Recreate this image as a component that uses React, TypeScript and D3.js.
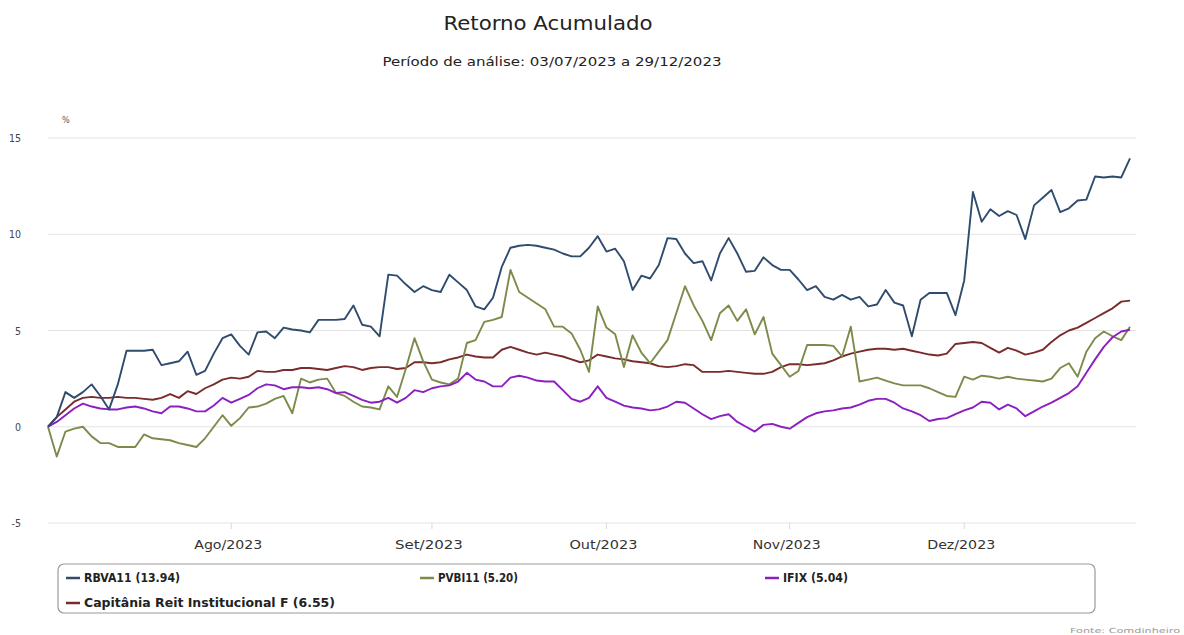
import React from "react";
import * as d3 from "d3";

// ---- Data ----
const startDate = "2023-07-03";
const endDate = "2023-12-29";
const holidays = ["2023-09-07", "2023-10-12", "2023-11-02", "2023-11-15", "2023-12-25"];
const monthLabels = ["Ago/2023", "Set/2023", "Out/2023", "Nov/2023", "Dez/2023"];
const yTicks = [-5, 0, 5, 10, 15];

const rbva11 = [
  0, 0.5, 1.8, 1.5, 1.8, 2.2, 1.6, 0.9, 2.2, 3.95, 3.95, 3.95, 4.0, 3.2, 3.3, 3.4, 3.9, 2.7, 2.9, 3.8, 4.6,
  4.8, 4.2, 3.75, 4.9, 4.95, 4.6, 5.15, 5.05, 5.0, 4.9, 5.55, 5.55, 5.55, 5.6, 6.3, 5.3, 5.2, 4.7, 7.9, 7.85, 7.4, 7.0,
  7.3, 7.1, 7.0, 7.9, 7.5, 7.1, 6.25, 6.1, 6.7, 8.3, 9.3, 9.4, 9.45, 9.4, 9.3, 9.2, 9.0, 8.85, 8.85, 9.3, 9.9,
  9.1, 9.25, 8.6, 7.1, 7.85, 7.7, 8.4, 9.8, 9.75, 9.0, 8.5, 8.6, 7.6, 9.0, 9.8, 9.0, 8.05, 8.1, 8.8, 8.4, 8.15,
  8.15, 7.65, 7.1, 7.3, 6.75, 6.6, 6.85, 6.6, 6.75, 6.25, 6.35, 7.1, 6.45, 6.3, 4.7, 6.6, 6.95, 6.95, 6.95, 5.8, 7.6, 12.2,
  10.65, 11.3, 10.95, 11.2, 11.0, 9.75, 11.5, 11.9, 12.3, 11.15, 11.35, 11.75, 11.8, 13.0, 12.95, 13.0, 12.95, 13.94,
];

const pvbi11 = [
  0, -1.55, -0.25, -0.1, 0.0, -0.5, -0.85, -0.85, -1.05, -1.05, -1.05, -0.4, -0.6, -0.65, -0.7, -0.85, -0.95, -1.05, -0.6, 0.0, 0.6,
  0.05, 0.45, 1.0, 1.05, 1.2, 1.45, 1.6, 0.7, 2.5, 2.3, 2.45, 2.5, 1.75, 1.6, 1.3, 1.05, 1.0, 0.9, 2.1, 1.55, 3.0, 4.6,
  3.4, 2.45, 2.3, 2.2, 2.5, 4.35, 4.5, 5.45, 5.55, 5.7, 8.15, 7.0, 6.7, 6.4, 6.1, 5.2, 5.2, 4.85, 4.0, 2.85, 6.25,
  5.15, 4.8, 3.1, 4.75, 3.85, 3.3, 3.9, 4.5, 5.9, 7.3, 6.3, 5.5, 4.5, 5.9, 6.3, 5.5, 6.1, 4.8, 5.7, 3.8, 3.2,
  2.6, 2.9, 4.25, 4.25, 4.25, 4.2, 3.65, 5.2, 2.35, 2.45, 2.55, 2.4, 2.25, 2.15, 2.15, 2.15, 2.0, 1.8, 1.6, 1.55, 2.6, 2.45,
  2.65, 2.6, 2.5, 2.6, 2.5, 2.45, 2.4, 2.35, 2.5, 3.05, 3.3, 2.6, 3.9, 4.6, 4.95, 4.7, 4.5, 5.2,
];

const ifix = [
  0, 0.25, 0.6, 0.95, 1.2, 1.05, 0.95, 0.9, 0.9, 1.0, 1.05, 0.95, 0.8, 0.7, 1.05, 1.05, 0.95, 0.8, 0.8, 1.1, 1.5,
  1.25, 1.45, 1.65, 2.0, 2.2, 2.15, 1.95, 2.05, 2.05, 2.0, 2.05, 1.95, 1.75, 1.8, 1.6, 1.4, 1.25, 1.3, 1.5, 1.25, 1.5, 1.9,
  1.8, 2.0, 2.1, 2.15, 2.35, 2.8, 2.45, 2.35, 2.1, 2.1, 2.55, 2.65, 2.55, 2.4, 2.35, 2.35, 1.9, 1.45, 1.3, 1.5, 2.1,
  1.5, 1.3, 1.1, 1.0, 0.95, 0.85, 0.9, 1.05, 1.3, 1.25, 0.95, 0.65, 0.4, 0.55, 0.65, 0.25, 0.0, -0.25, 0.1, 0.15, 0.0,
  -0.1, 0.2, 0.5, 0.7, 0.8, 0.85, 0.95, 1.0, 1.15, 1.35, 1.45, 1.45, 1.25, 0.95, 0.8, 0.6, 0.3, 0.4, 0.45, 0.65, 0.85, 1.0,
  1.3, 1.25, 0.9, 1.15, 0.95, 0.55, 0.8, 1.05, 1.25, 1.5, 1.75, 2.1, 2.8, 3.5, 4.15, 4.65, 4.95, 5.04,
];

const capitania = [
  0, 0.5, 0.9, 1.3, 1.5, 1.55, 1.5, 1.5, 1.55, 1.5, 1.5, 1.45, 1.4, 1.5, 1.7, 1.5, 1.85, 1.7, 2.0, 2.2, 2.45,
  2.55, 2.5, 2.6, 2.9, 2.85, 2.85, 2.95, 2.95, 3.05, 3.05, 3.0, 2.95, 3.05, 3.15, 3.1, 2.95, 3.05, 3.1, 3.1, 3.0, 3.05, 3.35,
  3.35, 3.3, 3.35, 3.5, 3.6, 3.75, 3.65, 3.6, 3.6, 4.0, 4.15, 4.0, 3.85, 3.75, 3.85, 3.75, 3.65, 3.5, 3.35, 3.45, 3.75,
  3.65, 3.55, 3.5, 3.4, 3.35, 3.3, 3.15, 3.1, 3.15, 3.25, 3.2, 2.85, 2.85, 2.85, 2.9, 2.85, 2.8, 2.75, 2.75, 2.85, 3.1,
  3.25, 3.25, 3.2, 3.25, 3.3, 3.45, 3.65, 3.8, 3.9, 4.0, 4.05, 4.05, 4.0, 4.05, 3.95, 3.85, 3.75, 3.7, 3.8, 4.3, 4.35, 4.4,
  4.35, 4.1, 3.85, 4.1, 3.95, 3.75, 3.85, 4.0, 4.4, 4.75, 5.0, 5.15, 5.4, 5.65, 5.9, 6.15, 6.5, 6.55,
];

const seriesNames = ["RBVA11", "PVBI11", "IFIX", "Capitânia Reit Institucional F"];
const seriesColors = ["#2f4b6e", "#7b8b4a", "#8b1fc0", "#7a2b2b"];
const seriesValues = [rbva11, pvbi11, ifix, capitania];
const seriesDrawOrder = [3, 1, 2, 0];

// trading days (category axis)
function tradingDays(): Date[] {
  const out: Date[] = [];
  const hol = new Set(holidays);
  const d = new Date(startDate + "T12:00:00");
  const end = new Date(endDate + "T12:00:00");
  while (d <= end) {
    const wd = d.getDay();
    const key = d3.timeFormat("%Y-%m-%d")(d);
    if (wd !== 0 && wd !== 6 && !hol.has(key)) out.push(new Date(d));
    d.setDate(d.getDate() + 1);
  }
  return out;
}

export default function App() {
  const W = 1184;
  const H = 635;
  const margin = { left: 48, right: 54, top: 138, bottom: 112 };
  const dates = tradingDays();
  const n = dates.length;

  const x = d3.scaleLinear().domain([0, n - 1]).range([margin.left, W - margin.right]);
  const y = d3.scaleLinear().domain([-5, 15]).range([H - margin.bottom, margin.top]);

  const tickIdx: number[] = [];
  for (let i = 1; i < n; i++) {
    if (dates[i].getMonth() !== dates[i - 1].getMonth()) tickIdx.push(i);
  }

  const line = d3
    .line<number>()
    .x((_, i) => x(i))
    .y((v) => y(v));

  const font = "'DejaVu Sans Condensed', 'DejaVu Sans', sans-serif";
  const gridRight = W - 48;

  const legendItems = [
    { i: 0, lx: 66, ly: 578, tl: 96 },
    { i: 1, lx: 420, ly: 578, tl: 80 },
    { i: 2, lx: 765, ly: 578, tl: 65 },
    { i: 3, lx: 66, ly: 603, tl: 251 },
  ];

  return (
    <svg
      width={W}
      height={H}
      style={{ position: "absolute", left: 0, top: 0, background: "#fff", fontFamily: font }}
    >
      <text x={548} y={30} textAnchor="middle" fontSize={19} fill="#222" textLength={209} lengthAdjust="spacingAndGlyphs">
        Retorno Acumulado
      </text>
      <text x={552} y={66} textAnchor="middle" fontSize={12} fill="#222" textLength={339} lengthAdjust="spacingAndGlyphs">
        Período de análise: 03/07/2023 a 29/12/2023
      </text>
      <text x={62} y={123} fontSize={9} fill="#555">
        %
      </text>

      {yTicks.map((t) => (
        <g key={t}>
          <line x1={margin.left} x2={gridRight} y1={y(t)} y2={y(t)} stroke="#e3e3e3" strokeWidth={1.2} />
          <text x={21} y={y(t) + 4} textAnchor="end" fontSize={10.5} fill="#444">
            {t}
          </text>
        </g>
      ))}

      {tickIdx.map((ti, k) => (
        <g key={ti}>
          <line x1={x(ti)} x2={x(ti)} y1={y(-5)} y2={y(-5) + 6} stroke="#d8d8d8" strokeWidth={1} />
          <text x={x(ti) - 3} y={549} textAnchor="middle" fontSize={11.5} fill="#333" textLength={68} lengthAdjust="spacingAndGlyphs">
            {monthLabels[k]}
          </text>
        </g>
      ))}

      {seriesDrawOrder.map((si) => (
        <path
          key={si}
          d={line(seriesValues[si]) || ""}
          fill="none"
          stroke={seriesColors[si]}
          strokeWidth={1.9}
          strokeLinejoin="round"
        />
      ))}

      <rect x={58} y={564} width={1037} height={49} rx={6} ry={6} fill="#fff" stroke="#9a9a9a" strokeWidth={1.2} />
      {legendItems.map((it) => {
        const vals = seriesValues[it.i];
        return (
          <g key={it.i}>
            <line x1={it.lx} x2={it.lx + 14} y1={it.ly} y2={it.ly} stroke={seriesColors[it.i]} strokeWidth={2.5} />
            <text
              x={it.lx + 18}
              y={it.ly + 4}
              fontSize={11.5}
              fontWeight="bold"
              fill="#222"
              textLength={it.tl}
              lengthAdjust="spacingAndGlyphs"
            >
              {`${seriesNames[it.i]} (${vals[vals.length - 1].toFixed(2)})`}
            </text>
          </g>
        );
      })}

      <text x={1180} y={633} textAnchor="end" fontSize={7} fill="#999" textLength={110} lengthAdjust="spacingAndGlyphs">
        Fonte: Comdinheiro
      </text>
    </svg>
  );
}
